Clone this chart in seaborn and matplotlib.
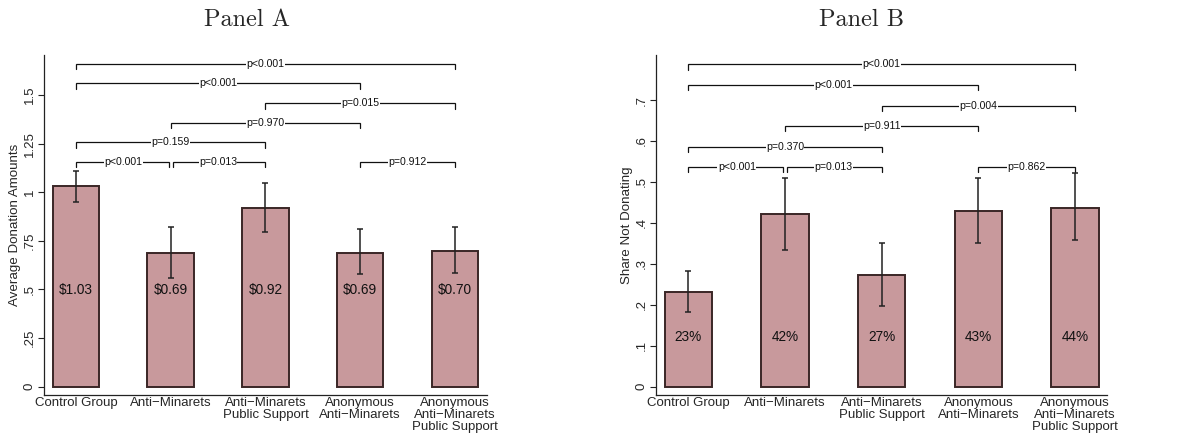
import numpy as np
import pandas as pd
import matplotlib
matplotlib.use("Agg")
import matplotlib.pyplot as plt
import seaborn as sns

sns.set_style("white")
plt.rcParams['font.family'] = ['Liberation Sans', 'DejaVu Sans']

categories = ["Control Group", "Anti\u2212Minarets", "Anti\u2212Minarets\nPublic Support",
              "Anonymous\nAnti\u2212Minarets", "Anonymous\nAnti\u2212Minarets\nPublic Support"]

# Panel A
donation = [1.03, 0.69, 0.92, 0.69, 0.70]
donation_lo = [0.952, 0.561, 0.794, 0.580, 0.585]
donation_hi = [1.111, 0.820, 1.049, 0.810, 0.823]
donation_labels = ["$1.03", "$0.69", "$0.92", "$0.69", "$0.70"]
donation_yticks = [0, 0.25, 0.5, 0.75, 1, 1.25, 1.5]
donation_yticklabels = ["0", ".25", ".5", ".75", "1", "1.25", "1.5"]
# brackets: (group i, group j, level, label)
brackets_a = [(0, 1, 1.157, "p<0.001"), (1, 2, 1.157, "p=0.013"), (3, 4, 1.157, "p=0.912"),
              (0, 2, 1.257, "p=0.159"), (1, 3, 1.358, "p=0.970"), (2, 4, 1.458, "p=0.015"),
              (0, 3, 1.561, "p<0.001"), (0, 4, 1.660, "p<0.001")]

# Panel B
share = [0.232, 0.422, 0.273, 0.428, 0.437]
share_lo = [0.183, 0.334, 0.198, 0.350, 0.357]
share_hi = [0.283, 0.510, 0.352, 0.509, 0.521]
share_labels = ["23%", "42%", "27%", "43%", "44%"]
share_yticks = [0, .1, .2, .3, .4, .5, .6, .7]
share_yticklabels = ["0", ".1", ".2", ".3", ".4", ".5", ".6", ".7"]
brackets_b = [(0, 1, 0.537, "p<0.001"), (1, 2, 0.537, "p=0.013"), (3, 4, 0.537, "p=0.862"),
              (0, 2, 0.586, "p=0.370"), (1, 3, 0.637, "p=0.911"), (2, 4, 0.686, "p=0.004"),
              (0, 3, 0.737, "p<0.001"), (0, 4, 0.787, "p<0.001")]

BAR = "#C8999C"
EDGE = "#3A2626"

fig = plt.figure(figsize=(11.89, 4.43), dpi=100)
axA = fig.add_axes([44/1189, 48/443, (486.7-44)/1189, 340/443])
axB = fig.add_axes([656/1189, 48/443, (1107.3-656)/1189, 340/443])


def draw(ax, vals, lo, hi, labels, label_y, brackets, tick_h, yticks, yticklabels, ylim, ylabel):
    df = pd.DataFrame({"group": categories, "value": vals})
    sns.barplot(data=df, x="group", y="value", order=categories, color=BAR, width=0.49,
                edgecolor=EDGE, linewidth=1.4, saturation=1, errorbar=None, ax=ax)
    xs = np.arange(len(categories))
    v = np.array(vals)
    ax.errorbar(xs, v, yerr=[v - np.array(lo), np.array(hi) - v], fmt="none",
                ecolor="#222222", elinewidth=1.1, capsize=2.0, capthick=1.1, zorder=5)
    for x, t in zip(xs, labels):
        ax.text(x, label_y, t, ha="center", va="center", fontsize=9.8, color="#111111", zorder=6)
    ends = {}
    for i, j, lev, _ in brackets:
        ends.setdefault((i, lev), []).append("L")
        ends.setdefault((j, lev), []).append("R")
    for i, j, lev, txt in brackets:
        x0 = i + (0.02 if len(ends[(i, lev)]) > 1 else 0)
        x1 = j - (0.02 if len(ends[(j, lev)]) > 1 else 0)
        ax.plot([x0, x0, x1, x1], [lev - tick_h, lev, lev, lev - tick_h], color="#111111",
                lw=0.9, solid_joinstyle="miter", zorder=4)
        ax.text((i + j) / 2, lev, txt, ha="center", va="center", fontsize=7.6, color="#111111",
                bbox=dict(facecolor="white", edgecolor="none", pad=0.2), zorder=5)
    ax.set_xlim(-0.336, 4.334)
    ax.set_ylim(*ylim)
    ax.set_yticks(yticks)
    ax.set_yticklabels(yticklabels, rotation=90, va="center", fontsize=9.5)
    ax.tick_params(axis="y", which="both", left=True, length=4, width=0.8, pad=2, color="#222222")
    ax.tick_params(axis="x", bottom=False, length=0, pad=1.5)
    ax.set_xticks(xs)
    ax.set_xticklabels(categories, fontsize=9.5, linespacing=1.0)
    ax.set_xlabel("")
    ax.set_ylabel(ylabel, fontsize=9.6, labelpad=2)
    for s in ["top", "right"]:
        ax.spines[s].set_visible(False)
    for s in ["left", "bottom"]:
        ax.spines[s].set_color("#222222")
        ax.spines[s].set_linewidth(0.9)


draw(axA, donation, donation_lo, donation_hi, donation_labels, 0.497, brackets_a, 0.028,
     donation_yticks, donation_yticklabels, (-0.0427, 1.706), "Average Donation Amounts")
draw(axB, share, share_lo, share_hi, share_labels, 0.122, brackets_b, 0.0125,
     share_yticks, share_yticklabels, (-0.0203, 0.81), "Share Not Donating")

fig.text(246.7/1189, 1 - 20/443, "Panel A", ha="center", va="center", fontsize=17.5, family="cmr10")
fig.text(861.7/1189, 1 - 20/443, "Panel B", ha="center", va="center", fontsize=17.5, family="cmr10")

fig.savefig("out.png", dpi=100, facecolor="white")
